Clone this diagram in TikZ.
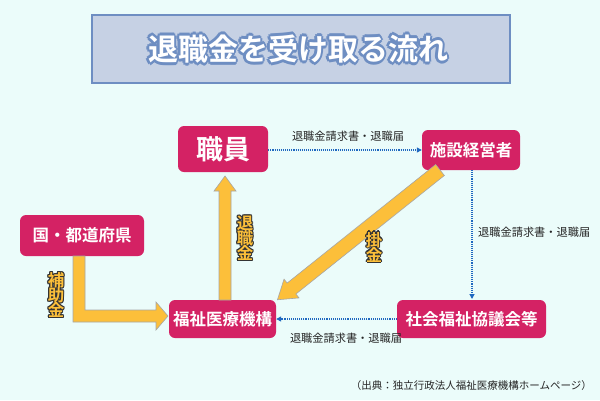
\documentclass[tikz,border=0pt]{standalone}
\usepackage{fontspec}
\setmainfont{Noto Sans CJK JP}
\newfontfamily\jpb{Noto Sans CJK JP Bold}
\usetikzlibrary{arrows.meta}
\definecolor{bg}{HTML}{EBFCFA}
\definecolor{mag}{HTML}{D42264}
\definecolor{org}{HTML}{FCBF3A}
\definecolor{tbox}{HTML}{C6D1E4}
\definecolor{tedge}{HTML}{6E8EC2}
\definecolor{dblue}{HTML}{1F68C0}
\tikzset{
 box/.style={fill=mag,rounded corners=6pt,text=white,font=\jpb\fontsize{16.5}{19}\selectfont,inner sep=0pt},
 bigarrow/.style={fill=org,draw=gray!70,line width=0.6pt,line join=miter},
 dots/.style={dblue,densely dotted,line width=1.1pt,-{Triangle[length=5pt,width=5pt]}},
 small/.style={font=\fontsize{11.2}{13}\selectfont,text=black!85,inner sep=0pt}
}
\newcommand\outlined[6]{% x, y, text, fill, outline, width
 \node[text=#5,align=center,xshift=-#6] at (#1,#2) {#3};
 \node[text=#5,align=center,xshift=#6] at (#1,#2) {#3};
 \node[text=#5,align=center,yshift=-#6] at (#1,#2) {#3};
 \node[text=#5,align=center,yshift=#6] at (#1,#2) {#3};
 \node[text=#5,align=center,xshift=-0.7*#6,yshift=-0.7*#6] at (#1,#2) {#3};
 \node[text=#5,align=center,xshift=0.7*#6,yshift=-0.7*#6] at (#1,#2) {#3};
 \node[text=#5,align=center,xshift=-0.7*#6,yshift=0.7*#6] at (#1,#2) {#3};
 \node[text=#5,align=center,xshift=0.7*#6,yshift=0.7*#6] at (#1,#2) {#3};
 \node[text=#4,align=center] at (#1,#2) {#3};}
\begin{document}
\begin{tikzpicture}[x=1pt,y=-1pt]
\fill[bg] (0,0) rectangle (600,400);
\useasboundingbox (0,0) rectangle (600,400);
% title
\draw[fill=tbox,draw=tedge,line width=2.2pt] (92,15) rectangle (510,83);
\begin{scope}[font=\jpb\fontsize{30}{34}\selectfont]
\outlined{298}{49}{退職金を受け取る流れ}{white}{tedge}{2.6pt}
\end{scope}
% nodes
\node[box,minimum width=90,minimum height=46,font=\jpb\fontsize{27}{30}\selectfont] (sy) at (223,149) {職員};
\node[box,minimum width=98,minimum height=40] (sk) at (471,150) {施設経営者};
\node[box,minimum width=124,minimum height=41] (kn) at (82,235.5) {国・都道府県};
\node[box,minimum width=107,minimum height=38] (fk) at (222.5,319) {福祉医療機構};
\node[box,minimum width=149,minimum height=38] (sh) at (471.5,319) {社会福祉協議会等};
% big arrows
\draw[bigarrow] (219,300)--(219,191)--(214,191)--(225,176)--(236,191)--(231,191)--(231,300)--cycle;
\draw[bigarrow] (73,256)--(85,256)--(85,310)--(156,310)--(156,302)--(168,316)--(156,330)--(156,322)--(73,322)--cycle;
\begin{scope}[shift={(440,170)},rotate=218.6]
\draw[bigarrow] (0,-7)--(190,-7)--(190,-12)--(208,0)--(190,12)--(190,7)--(0,7)--cycle;
\end{scope}
% labels on big arrows
\begin{scope}[font=\jpb\fontsize{16.5}{18}\selectfont]
\outlined{245}{238}{退\\[-3pt]職\\[-3pt]金}{org}{black!80}{1.2pt}
\outlined{56}{295}{補\\[-3pt]助\\[-3pt]金}{org}{black!80}{1.2pt}
\outlined{374}{247}{掛\\[-3pt]金}{org}{black!80}{1.2pt}
\end{scope}
% dotted arrows
\draw[dots] (sy.east |- 0,150) -- (sk.west |- 0,150);
\node[small] (l1) at (348,136) {退職金請求書・退職届};
\draw[dots] (472,170) -- (472,299);
\node[small,anchor=west] (l2) at (478,232) {退職金請求書・退職届};
\draw[dots] (sh.west |- 0,319) -- (fk.east |- 0,319);
\node[small] (l3) at (346,338) {退職金請求書・退職届};
\node[small,anchor=east,font=\fontsize{10.5}{12}\selectfont] (src) at (592,386) {（出典：独立行政法人福祉医療機構ホームページ）};
\end{tikzpicture}
\end{document}
